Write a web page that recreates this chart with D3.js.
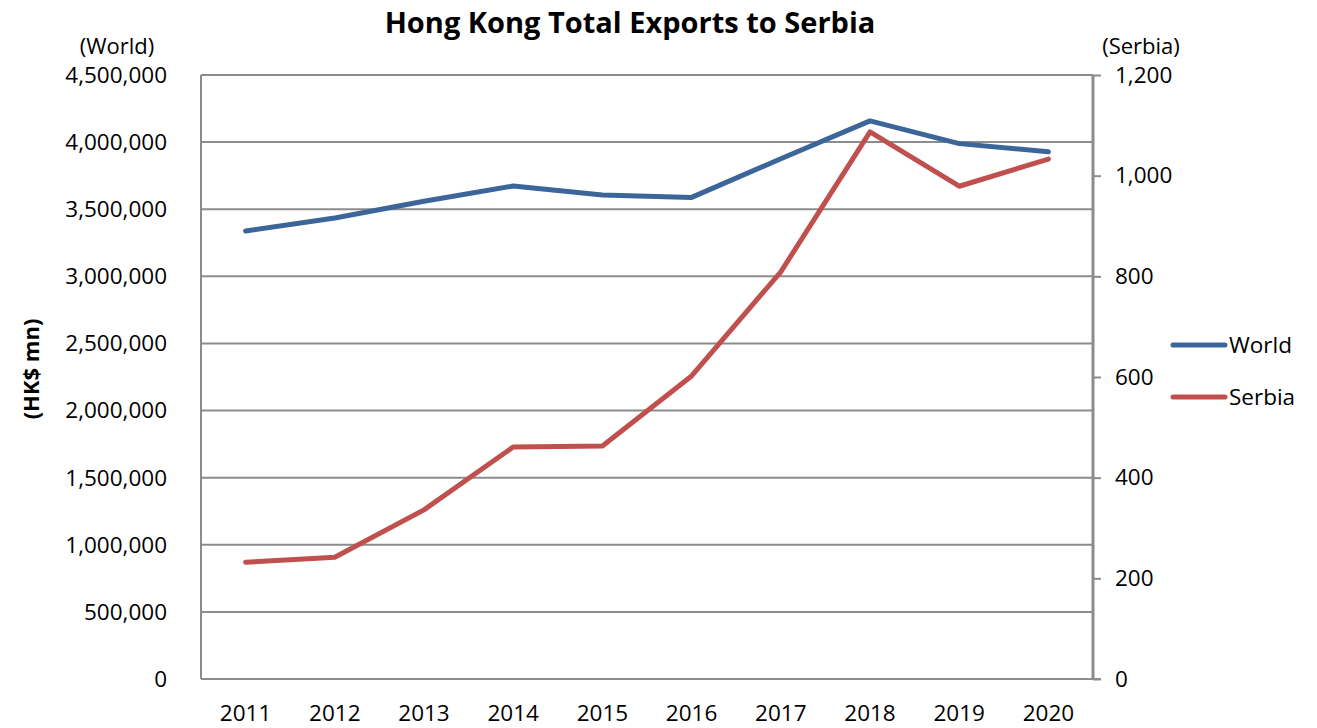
<!DOCTYPE html>
<html><head><meta charset="utf-8">
<script src="https://cdn.jsdelivr.net/npm/d3@7"></script>
<style>body{margin:0;background:#fff;font-family:"Open Sans",sans-serif;}</style>
</head><body>
<svg id="c" width="1317" height="728"></svg>
<script>
const years = ["2011","2012","2013","2014","2015","2016","2017","2018","2019","2020"];
const world = [3337253,3434346,3559686,3672751,3605279,3588247,3875898,4158067,3988685,3927516];
const serbia = [232,242,336,461,463,602,809,1087,979,1033];
const leftTicks = [0,500000,1000000,1500000,2000000,2500000,3000000,3500000,4000000,4500000];
const rightTicks = [0,200,400,600,800,1000,1200];

const svg = d3.select("#c");
const L=201, R=1093, T=75, B=679;
const x = d3.scaleBand().domain(years).range([L,R]);
const yL = d3.scaleLinear().domain([0,4500000]).range([B,T]);
const yR = d3.scaleLinear().domain([0,1200]).range([B,T]);
const grid="#8c8c8c", fs="22.5px";
const fmt = d3.format(",");

// gridlines
svg.append("g").selectAll("line").data(leftTicks.filter(d=>d>0)).join("line")
  .attr("x1",L).attr("x2",R).attr("y1",d=>yL(d)).attr("y2",d=>yL(d))
  .attr("stroke",grid).attr("stroke-width",2);
// left border
svg.append("line").attr("x1",L).attr("x2",L).attr("y1",T).attr("y2",B).attr("stroke",grid).attr("stroke-width",2);
// bottom axis
svg.append("line").attr("x1",L).attr("x2",R+8).attr("y1",B).attr("y2",B).attr("stroke",grid).attr("stroke-width",2);
// right axis
const ra = svg.append("g").attr("transform",`translate(${R},0)`).call(d3.axisRight(yR).tickValues(rightTicks).tickSize(8).tickPadding(14).tickFormat(fmt));
ra.select(".domain").attr("stroke",grid).attr("stroke-width",3).attr("d",`M0,${T}V${B}`);
ra.selectAll(".tick line").attr("stroke",grid).attr("stroke-width",2);
ra.selectAll("text").attr("font-size",fs).attr("font-family","Open Sans").attr("fill","#000");

// left axis labels
svg.append("g").selectAll("text").data(leftTicks).join("text")
  .attr("x",167).attr("y",d=>yL(d)).attr("dy","0.35em").attr("text-anchor","end")
  .attr("font-size",fs).text(d=>fmt(d));
// x labels
svg.append("g").selectAll("text").data(years).join("text")
  .attr("x",d=>x(d)+x.bandwidth()/2).attr("y",721).attr("text-anchor","middle")
  .attr("font-size",fs).text(d=>d);

// lines
const lw = d3.line().x((d,i)=>x(years[i])+x.bandwidth()/2).y(d=>yL(d));
const ls = d3.line().x((d,i)=>x(years[i])+x.bandwidth()/2).y(d=>yR(d));
svg.append("path").attr("d",lw(world)).attr("fill","none").attr("stroke","#3c6699").attr("stroke-width",5).attr("stroke-linejoin","round").attr("stroke-linecap","round");
svg.append("path").attr("d",ls(serbia)).attr("fill","none").attr("stroke","#c0504d").attr("stroke-width",5).attr("stroke-linejoin","round").attr("stroke-linecap","round");

// titles
svg.append("text").attr("x",630).attr("y",33).attr("text-anchor","middle").attr("font-size","29px").attr("font-weight","bold").text("Hong Kong Total Exports to Serbia");
svg.append("text").attr("x",117).attr("y",54).attr("text-anchor","middle").attr("font-size","22px").text("(World)");
svg.append("text").attr("x",1141).attr("y",54).attr("text-anchor","middle").attr("font-size","22px").text("(Serbia)");
svg.append("text").attr("transform","translate(39,369) rotate(-90)").attr("text-anchor","middle").attr("font-size","22px").attr("font-weight","bold").text("(HK$ mn)");

// legend
const leg = [["World","#3c6699",345],["Serbia","#c0504d",397]];
leg.forEach(([n,c,y])=>{
  svg.append("line").attr("x1",1173).attr("x2",1225).attr("y1",y).attr("y2",y).attr("stroke",c).attr("stroke-width",5).attr("stroke-linecap","round");
  svg.append("text").attr("x",1229).attr("y",y).attr("dy","0.35em").attr("font-size",fs).text(n);
});
</script>
</body></html>
